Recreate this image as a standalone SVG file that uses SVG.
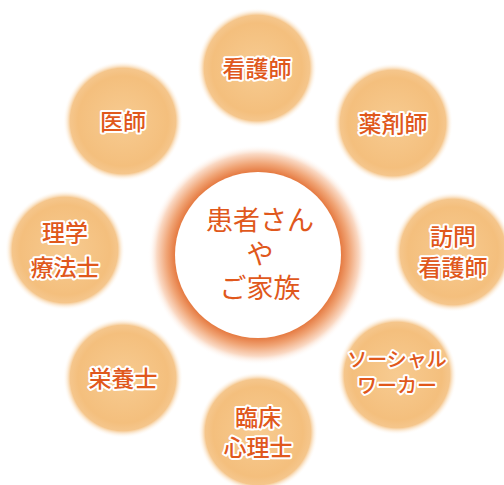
<svg xmlns="http://www.w3.org/2000/svg" width="504" height="485" viewBox="0 0 504 485">
<defs>
<radialGradient id="og" cx="0.5" cy="0.5" r="0.5">
<stop offset="0" stop-color="#f7cb91"/>
<stop offset="0.75" stop-color="#f4bf7d"/>
<stop offset="0.88" stop-color="#f5c68c"/>
<stop offset="1" stop-color="#ffffff" stop-opacity="0"/>
</radialGradient>
<radialGradient id="cg" cx="0.5" cy="0.5" r="0.5">
<stop offset="0.76" stop-color="#e67d45"/>
<stop offset="0.83" stop-color="#f0a475"/>
<stop offset="0.92" stop-color="#fad9c4"/>
<stop offset="1" stop-color="#ffffff" stop-opacity="0"/>
</radialGradient>
</defs>
<style>
.o{fill:url(#og)}
.t{font-family:"Noto Sans CJK JP","Noto Sans",sans-serif;font-size:23px;font-weight:500;fill:#e0581c;stroke:#ffffff;stroke-width:4;stroke-linejoin:round;paint-order:stroke;text-anchor:middle}
.s{font-size:20px}
.c{font-family:"Noto Sans CJK JP","Noto Sans",sans-serif;font-size:27px;font-weight:400;fill:#e0581c;text-anchor:middle}
</style>
<rect width="504" height="485" fill="#ffffff"/>
<g id="center">
<circle cx="258" cy="255" r="110" fill="url(#cg)"/>
<circle cx="258" cy="255" r="83" fill="#ffffff"/>
<text class="c" x="260" y="230">患者さん</text>
<text class="c" x="260" y="264">や</text>
<text class="c" x="260" y="298">ご家族</text>
</g>
<g id="kangoshi"><circle class="o" cx="257" cy="68" r="60"/><text class="t" x="257" y="77">看護師</text></g>
<g id="yakuzaishi"><circle class="o" cx="393" cy="123" r="60"/><text class="t" x="393" y="132">薬剤師</text></g>
<g id="houmon"><circle class="o" cx="453" cy="252" r="60"/><text class="t" x="453" y="245">訪問</text><text class="t" x="453" y="276">看護師</text></g>
<g id="social"><circle class="o" cx="397" cy="375" r="60"/><text class="t s" x="397" y="367">ソーシャル</text><text class="t s" x="397" y="393">ワーカー</text></g>
<g id="rinsho"><circle class="o" cx="258" cy="432" r="60"/><text class="t" x="258" y="426">臨床</text><text class="t" x="258" y="456">心理士</text></g>
<g id="eiyoushi"><circle class="o" cx="123" cy="378" r="60"/><text class="t" x="123" y="387">栄養士</text></g>
<g id="rigaku"><circle class="o" cx="65" cy="250" r="60"/><text class="t" x="65" y="241">理学</text><text class="t" x="65" y="276">療法士</text></g>
<g id="ishi"><circle class="o" cx="123" cy="121" r="60"/><text class="t" x="123" y="130">医師</text></g>
<g id="connectors"/>
</svg>
